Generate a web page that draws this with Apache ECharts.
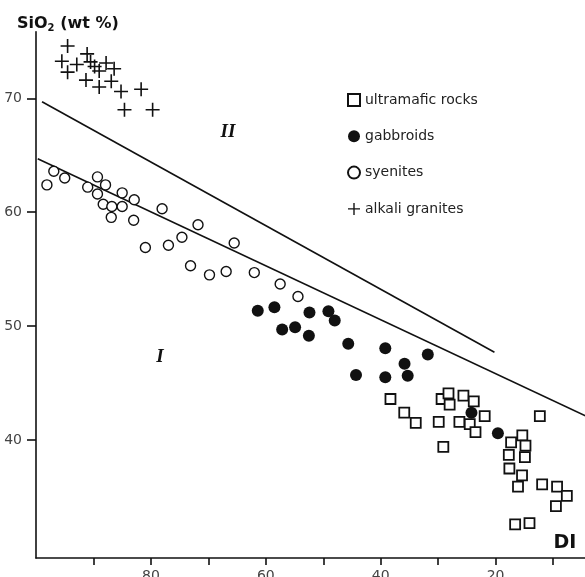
<!DOCTYPE html>
<html><head><meta charset="utf-8">
<script src="https://cdn.jsdelivr.net/npm/echarts@6/dist/echarts.min.js"></script>
<style>html,body{margin:0;padding:0;background:#fff}#c{width:585px;height:577px}</style>
</head><body><div id="c"></div>
<script>
// DI (x) , SiO2 wt% (y)
const ultramafic = [[38.3,43.6],[35.9,42.4],[33.9,41.5],[29.9,41.6],[29.1,39.4],[29.4,43.6],[28.2,44.1],[28.0,43.1],[25.6,43.9],[23.8,43.4],[26.3,41.6],[24.5,41.4],[23.5,40.7],[21.9,42.1],[12.3,42.1],[15.35,40.4],[17.3,39.8],[14.8,39.5],[17.7,38.7],[14.9,38.5],[17.6,37.5],[15.4,36.9],[16.1,35.9],[11.9,36.1],[9.3,35.9],[7.6,35.1],[9.5,34.2],[16.6,32.6],[14.1,32.7]];
const gabbroids = [[61.4,51.35],[58.5,51.65],[52.4,51.2],[49.1,51.3],[48.0,50.5],[57.15,49.7],[54.9,49.9],[52.5,49.15],[45.65,48.45],[39.2,48.05],[31.8,47.5],[35.85,46.7],[44.3,45.7],[39.2,45.5],[35.3,45.65],[24.2,42.4],[19.6,40.6]];
const syenites = [[98.1,62.4],[96.9,63.6],[95.0,63.0],[91.0,62.2],[89.3,63.1],[87.9,62.4],[89.3,61.6],[88.3,60.7],[86.8,60.5],[85.0,60.5],[85.0,61.7],[82.9,61.1],[86.9,59.55],[83.0,59.3],[78.05,60.3],[80.96,56.9],[76.95,57.1],[74.6,57.8],[71.8,58.9],[73.1,55.3],[69.8,54.5],[66.9,54.8],[65.5,57.3],[62.0,54.7],[57.5,53.7],[54.4,52.6]];
const alkaliGranites = [[94.5,74.6],[91.1,73.9],[95.5,73.25],[92.9,72.97],[90.5,73.2],[89.8,72.8],[87.8,73.1],[94.5,72.3],[89.0,72.4],[86.4,72.6],[91.3,71.6],[89.0,71.0],[86.9,71.5],[85.2,70.6],[81.7,70.8],[84.6,69.0],[79.7,69.0]];
const lineI = [[99.7,64.7],[0,41.1]];
const lineII = [[98.95,69.7],[20.2,47.7]];
const xTicks = [90,80,70,60,50,40,30,20,10];
const xLabels = [80,60,40,20];
const yTicks = [40,50,60,70];
const legendNames = ['ultramafic rocks','gabbroids','syenites','alkali granites'];

const ink = '#111';
const crossPath = 'path://M0,6.2h14v1.6h-14z M6.2,0h1.6v14h-1.6z';
const chart = echarts.init(document.getElementById('c'));
chart.setOption({
  animation: false,
  backgroundColor: '#fff',
  title: {
    text: 'SiO{s|2} (wt %)',
    left: 12, top: 10,
    textStyle: {
      fontFamily: 'DejaVu Sans', fontSize: 16, fontWeight: 'bold', color: ink,
      rich: { s: { fontFamily: 'DejaVu Sans', fontSize: 10, fontWeight: 'bold', color: ink, padding: [8, 0, 0, 0] } }
    }
  },
  grid: { left: 36, top: 31.7, width: 574.5, height: 526.3, containLabel: false, outerBoundsMode: 'none' },
  legend: {
    data: legendNames,
    orient: 'vertical', left: 347, top: 93, padding: 0,
    itemWidth: 12, itemHeight: 12, itemGap: 22.3, itemTextGap: 16,
    selectedMode: false,
    textStyle: { fontFamily: 'DejaVu Sans', fontSize: 14, color: '#222' }
  },
  xAxis: {
    type: 'value', inverse: true, min: 0, max: 100,
    axisLine: { onZero: false, lineStyle: { color: ink, width: 1.6 } },
    axisTick: { customValues: xTicks, length: 7, lineStyle: { color: ink, width: 1.6 } },
    axisLabel: { customValues: xLabels, margin: 11, fontFamily: 'DejaVu Sans', fontSize: 14, color: '#444' },
    splitLine: { show: false }
  },
  yAxis: {
    type: 'value', min: 29.64, max: 75.85,
    axisLine: { show: true, onZero: false, lineStyle: { color: ink, width: 1.6 } },
    axisTick: { show: true, customValues: yTicks, length: 9, lineStyle: { color: ink, width: 1.6 } },
    axisLabel: { customValues: yTicks, margin: 14, fontFamily: 'DejaVu Sans', fontSize: 14, color: '#444' },
    splitLine: { show: false }
  },
  graphic: [
    { type: 'text', x: 228, y: 132, style: { text: 'II', font: 'italic bold 19px "Liberation Serif"', fill: ink, align: 'center', verticalAlign: 'middle' } },
    { type: 'text', x: 160, y: 357, style: { text: 'I', font: 'italic bold 19px "Liberation Serif"', fill: ink, align: 'center', verticalAlign: 'middle' } },
    { type: 'text', x: 565, y: 543, style: { text: 'DI', font: 'bold 19px "DejaVu Sans"', fill: ink, align: 'center', verticalAlign: 'middle' } }
  ],
  series: [
    { type: 'line', data: lineI, showSymbol: false, symbol: 'none', lineStyle: { color: ink, width: 1.6 }, silent: true, z: 1 },
    { type: 'line', data: lineII, showSymbol: false, symbol: 'none', lineStyle: { color: ink, width: 1.6 }, silent: true, z: 1 },
    { name: legendNames[0], type: 'scatter', data: ultramafic, symbol: 'rect', symbolSize: 10, itemStyle: { color: '#fff', borderColor: ink, borderWidth: 1.8, opacity: 1 }, z: 3 },
    { name: legendNames[1], type: 'scatter', data: gabbroids, symbol: 'circle', symbolSize: 12, itemStyle: { color: ink, opacity: 1 }, z: 3 },
    { name: legendNames[2], type: 'scatter', data: syenites, symbol: 'circle', symbolSize: 10, itemStyle: { color: '#fff', borderColor: ink, borderWidth: 1.4, opacity: 1 }, z: 3 },
    { name: legendNames[3], type: 'scatter', data: alkaliGranites, symbol: crossPath, symbolSize: 14, itemStyle: { color: ink, opacity: 1 }, z: 3 }
  ]
});
</script></body></html>
